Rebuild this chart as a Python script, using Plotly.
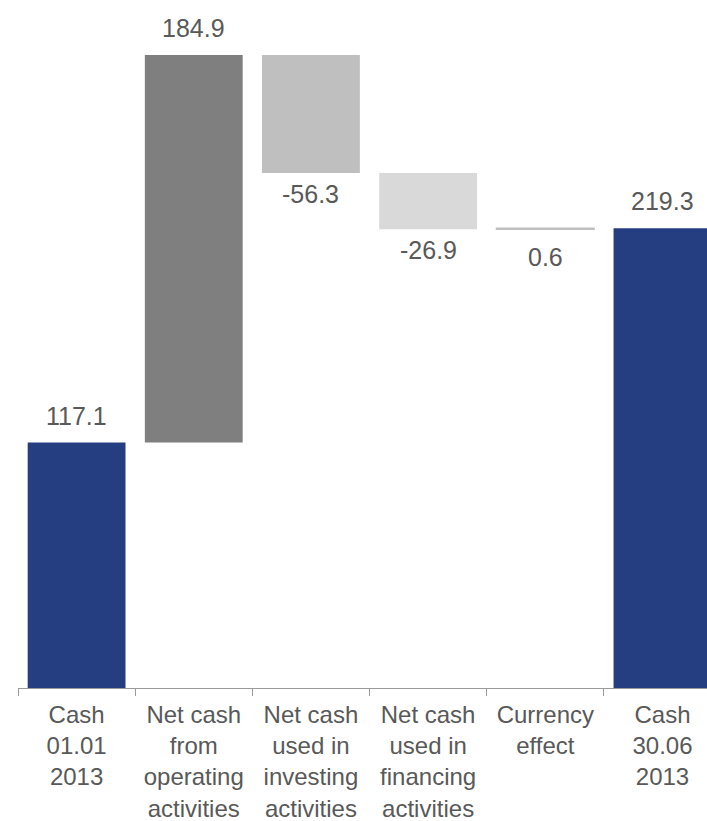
import plotly.graph_objects as go

categories = ["Cash<br>01.01<br>2013", "Net cash<br>from<br>operating<br>activities",
              "Net cash<br>used in<br>investing<br>activities", "Net cash<br>used in<br>financing<br>activities",
              "Currency<br>effect", "Cash<br>30.06<br>2013"]
values = [117.1, 184.9, -56.3, -26.9, 0.6, 219.3]
measures = ["total", "relative", "relative", "relative", "relative", "total"]
labels = ["117.1", "184.9", "-56.3", "-26.9", "0.6", "219.3"]
colors = ["#253E82", "#7F7F7F", "#BFBFBF", "#D9D9D9", "#BFBFBF", "#253E82"]

# compute bases from the data
bases, heights = [], []
running = 0.0
for v, m in zip(values, measures):
    if m == "total":
        bases.append(0.0)
        heights.append(v)
        running = v
    else:
        start = running
        end = running + v
        bases.append(min(start, end))
        heights.append(abs(v))
        running = end

fig = go.Figure()
fig.add_trace(go.Bar(
    x=categories, y=heights, base=bases,
    marker=dict(color=colors, line=dict(color=colors, width=[0, 0, 0, 0, 1.2, 0])),
    width=0.835, hoverinfo="skip", showlegend=False,
))

font_color = "#595959"
FONT = "Liberation Sans, Arial"
for i, (v, m) in enumerate(zip(values, measures)):
    top = bases[i] + heights[i]
    bottom = bases[i]
    if v >= 0 and (m == "total" or v > 5):
        fig.add_annotation(x=categories[i], y=top, text=labels[i], showarrow=False,
                           yanchor="bottom", yshift=11,
                           font=dict(size=25, color=font_color, family=FONT))
    elif v < 0:
        fig.add_annotation(x=categories[i], y=bottom, text=labels[i], showarrow=False,
                           yanchor="top", yshift=-5,
                           font=dict(size=25, color=font_color, family=FONT))
    else:
        fig.add_annotation(x=categories[i], y=bottom, text=labels[i], showarrow=False,
                           yanchor="top", yshift=-12,
                           font=dict(size=25, color=font_color, family=FONT))

fig.update_layout(
    width=707, height=821,
    margin=dict(l=18, r=0, t=0, b=133, autoexpand=False),
    plot_bgcolor="white", paper_bgcolor="white",
    font=dict(family=FONT, size=25, color=font_color),
)
fig.update_xaxes(
    type="category", categoryorder="array", categoryarray=categories,
    range=[-0.5, 5.38], showgrid=False, zeroline=False,
    showline=True, linecolor="#999999", linewidth=1.3,
    ticks="outside", tickson="boundaries", ticklen=7, tickcolor="#999999", tickwidth=1.3,
    tickfont=dict(size=24, color=font_color, family=FONT),
    tickangle=0, ticklabelstandoff=5, automargin=False,
)
fig.update_yaxes(range=[0, 328.2], visible=False, showgrid=False, automargin=False)

fig.write_html("out.html", config={"displayModeBar": False},
               post_script="document.body.style.margin='0';document.body.style.overflow='hidden';")
